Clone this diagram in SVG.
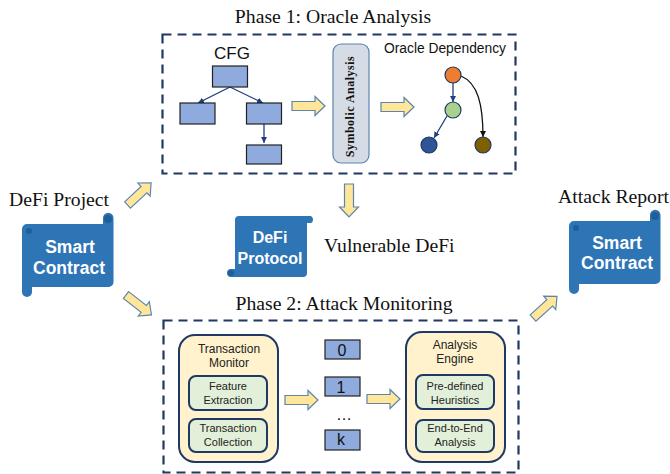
<svg xmlns="http://www.w3.org/2000/svg" width="670" height="474" viewBox="0 0 670 474">
<style>
.serif{font-family:"Liberation Serif","Times New Roman",serif;fill:#111}
.sans{font-family:"Liberation Sans",Arial,sans-serif;fill:#111}
.title{font-size:19.700px}
.dash{fill:none;stroke:#1f3864;stroke-width:2.2;stroke-dasharray:9 6}
.block{fill:#8faadc;stroke:#222;stroke-width:1.2}
.fat{fill:#ffe699;stroke:#5b84b1;stroke-width:1.2}
.scroll{fill:#2e75b6}
.curl{fill:#1f5f99}
.scrolltxt{font-family:"Liberation Sans",Arial,sans-serif;font-weight:bold;font-size:17.500px;fill:#fff;text-anchor:middle}
.proto{font-size:16px}
.outer{fill:#fff2cc;stroke:#1f3864;stroke-width:2}
.inner{fill:#e2f0d9;stroke:#1f3864;stroke-width:2}
.small{font-size:12px;text-anchor:middle;fill:#222;font-family:"Liberation Sans",Arial,sans-serif}
.inn{font-size:11px}
.num{font-size:16px;text-anchor:middle;fill:#111;font-family:"Liberation Sans",Arial,sans-serif}
.edge{fill:none;stroke:#1f3f7f;stroke-width:1.3}
.edgek{fill:none;stroke:#111;stroke-width:1.3}
</style>
<defs>
<marker id="ah" markerWidth="7" markerHeight="7" refX="6" refY="3" orient="auto" markerUnits="userSpaceOnUse"><path d="M0,0L6,3L0,6Z" fill="#1f3f7f"/></marker>
<marker id="ak" markerWidth="7" markerHeight="7" refX="6" refY="3" orient="auto" markerUnits="userSpaceOnUse"><path d="M0,0L6,3L0,6Z" fill="#111"/></marker>
<path id="fatH" class="fat" d="M0,-4.500H23V-9.500L33,0L23,9.500V4.500H0Z"/>
</defs>

<g id="connectors">
<path class="edge" d="M230,87L198,103" marker-end="url(#ah)"/>
<path class="edge" d="M230,87L263,103" marker-end="url(#ah)"/>
<path class="edge" d="M264,124V143" marker-end="url(#ah)" stroke-width="1.6"/>
<path class="edge" d="M453,83V102" marker-end="url(#ah)"/>
<path class="edge" d="M447,116L434,138" marker-end="url(#ah)"/>
<path class="edgek" d="M461,76C478,83 483,105 483,137" marker-end="url(#ak)"/>
<use href="#fatH" transform="translate(292,106)"/>
<use href="#fatH" transform="translate(381,107)"/>
<use href="#fatH" transform="translate(285,400)"/>
<use href="#fatH" transform="translate(367,399)"/>
<use href="#fatH" transform="translate(349,184) rotate(90)"/>
<use href="#fatH" transform="translate(127.500,205) rotate(-43) scale(.98,.95)"/>
<use href="#fatH" transform="translate(126,295) rotate(38) scale(.98,.95)"/>
<use href="#fatH" transform="translate(533,318) rotate(-42) scale(.98,.95)"/>
</g>

<g id="phase1">
<text class="serif title" x="333" y="23" text-anchor="middle">Phase 1: Oracle Analysis</text>
<rect class="dash" x="162.500" y="34.500" width="353" height="139"/>
</g>
<g id="cfg">
<text class="sans" x="232" y="59" font-size="17" text-anchor="middle">CFG</text>
<rect class="block" x="212.500" y="66" width="35" height="21"/>
<rect class="block" x="180" y="103" width="35" height="21"/>
<rect class="block" x="246.500" y="103" width="35" height="21"/>
<rect class="block" x="246.500" y="145" width="35" height="19"/>
</g>
<g id="symbolic">
<rect x="333" y="44" width="36" height="119" rx="8" fill="#d6dce5" stroke="#5b84b1" stroke-width="1.2"/>
<text class="serif" transform="translate(353.500,106.500) rotate(-90)" font-size="12" font-weight="bold" text-anchor="middle" letter-spacing=".5">Symbolic  Analysis</text>
</g>
<g id="oracle">
<text class="sans" x="445" y="53" font-size="13.800" text-anchor="middle">Oracle Dependency</text>
<circle cx="453" cy="75" r="8" fill="#ed7d31" stroke="#1f3864" stroke-width="1.200"/>
<circle cx="453" cy="110" r="8" fill="#a9d18e" stroke="#1f3864" stroke-width="1.200"/>
<circle cx="429" cy="145" r="8" fill="#2f5597" stroke="#1f3864" stroke-width="1.200"/>
<circle cx="483" cy="145" r="8" fill="#7f6000" stroke="#1f3864" stroke-width="1.200"/>
</g>

<g id="defi-project">
<text class="serif title" x="9" y="206">DeFi Project</text>
<path class="scroll" d="M27,224H103V218A5,5 0 0 1 113.500,218V282A5,5 0 0 1 108.500,287H32V292A5,5 0 0 1 22,292V229A5,5 0 0 1 27,224Z"/>
<circle class="curl" cx="108" cy="219" r="4"/>
<circle class="curl" cx="29" cy="231" r="3"/>
<text class="scrolltxt" x="70" y="253">Smart</text>
<text class="scrolltxt" x="69" y="274">Contract</text>
</g>

<g id="defi-protocol">
<path class="scroll" d="M239,216H311A4,4 0 0 1 311,223H307V273A4,4 0 0 1 303,277H231A4,4 0 0 1 231,269H235V220A4,4 0 0 1 239,216Z"/>
<circle class="curl" cx="231" cy="273" r="3"/>
<text class="scrolltxt proto" x="270" y="243">DeFi</text>
<text class="scrolltxt proto" x="270" y="264">Protocol</text>
</g>
<text id="vulnerable" class="serif title" x="324" y="252">Vulnerable DeFi</text>

<g id="attack-report">
<text class="serif title" x="558" y="203">Attack Report</text>
<path class="scroll" d="M574,221H650V215A5,5 0 0 1 660.500,215V279A5,5 0 0 1 655.500,284H579V289A5,5 0 0 1 569,289V226A5,5 0 0 1 574,221Z"/>
<circle class="curl" cx="655" cy="216" r="4"/>
<circle class="curl" cx="576" cy="228" r="3"/>
<text class="scrolltxt" x="617" y="249">Smart</text>
<text class="scrolltxt" x="617" y="269">Contract</text>
</g>

<g id="phase2">
<text class="serif title" x="344" y="310" text-anchor="middle">Phase 2: Attack Monitoring</text>
<rect class="dash" x="163.500" y="320.500" width="355" height="152"/>
</g>
<g id="transaction-monitor">
<rect class="outer" x="179" y="335" width="99" height="127" rx="16"/>
<text class="small" x="229" y="353">Transaction</text>
<text class="small" x="229" y="367">Monitor</text>
<rect class="inner" x="189" y="376" width="78" height="34" rx="7"/>
<text class="small inn" x="228" y="390">Feature</text>
<text class="small inn" x="228" y="404">Extraction</text>
<rect class="inner" x="189" y="419" width="78" height="33" rx="7"/>
<text class="small inn" x="228" y="432">Transaction</text>
<text class="small inn" x="228" y="446">Collection</text>
</g>
<g id="blocks">
<rect class="block" x="325" y="340" width="35" height="19"/>
<text class="num" x="342" y="356">0</text>
<rect class="block" x="325" y="377" width="35" height="19"/>
<text class="num" x="341" y="393">1</text>
<text class="num" x="344" y="420">…</text>
<rect class="block" x="325" y="430" width="35" height="20"/>
<text class="num" x="341" y="445">k</text>
</g>
<g id="analysis-engine">
<rect class="outer" x="406" y="332" width="99" height="130" rx="16"/>
<text class="small" x="455" y="349">Analysis</text>
<text class="small" x="455" y="363">Engine</text>
<rect class="inner" x="416" y="375" width="78" height="34" rx="7"/>
<text class="small inn" x="455" y="390">Pre-defined</text>
<text class="small inn" x="455" y="404">Heuristics</text>
<rect class="inner" x="416" y="420" width="78" height="32" rx="7"/>
<text class="small inn" x="455" y="432">End-to-End</text>
<text class="small inn" x="455" y="446">Analysis</text>
</g>
</svg>
